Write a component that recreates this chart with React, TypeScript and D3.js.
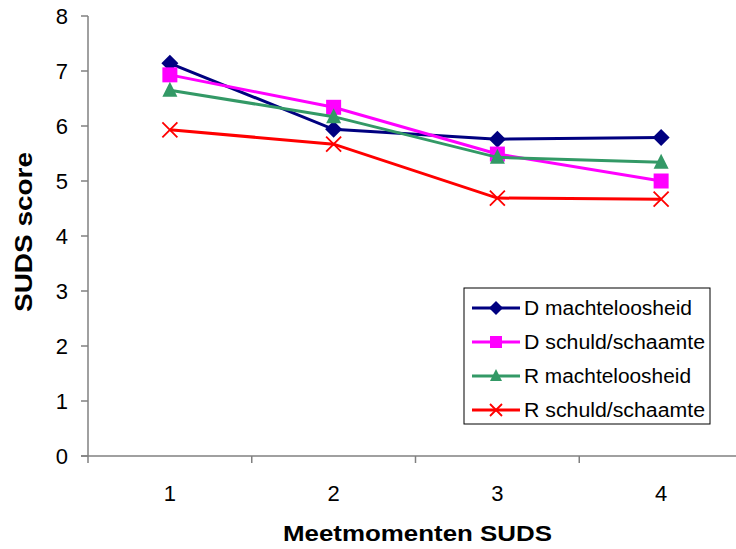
import React from "react";
import * as d3 from "d3";

const moments = ["1", "2", "3", "4"];
const dMacht = [7.14, 5.94, 5.76, 5.79];
const dSchuld = [6.93, 6.34, 5.49, 5.0];
const rMacht = [6.65, 6.17, 5.43, 5.34];
const rSchuld = [5.93, 5.67, 4.69, 4.67];
const yTicks = [0, 1, 2, 3, 4, 5, 6, 7, 8];

const series = [
  { name: "D machteloosheid", values: dMacht, color: "#000080", marker: "diamond" },
  { name: "D schuld/schaamte", values: dSchuld, color: "#FF00FF", marker: "square" },
  { name: "R machteloosheid", values: rMacht, color: "#339966", marker: "triangle" },
  { name: "R schuld/schaamte", values: rSchuld, color: "#FF0000", marker: "x" },
];

// rendered widths of the legend labels, so the glyphs match the original's narrow face
const legendTextWidth = [168, 181, 167, 181];

const W = 736;
const H = 549;
const margin = { top: 16, right: -7, bottom: 93, left: 88 };
const font = "'Liberation Sans', Arial, sans-serif";

function Marker({ type, x, y, color, r = 7.5 }: { type: string; x: number; y: number; color: string; r?: number }) {
  if (type === "diamond") {
    return <path d={`M${x},${y - r - 1}L${x + r + 1},${y}L${x},${y + r + 1}L${x - r - 1},${y}Z`} fill={color} />;
  }
  if (type === "square") {
    return <rect x={x - r} y={y - r} width={2 * r} height={2 * r} fill={color} />;
  }
  if (type === "triangle") {
    return <path d={`M${x},${y - r - 1}L${x + r},${y + r - 1}L${x - r},${y + r - 1}Z`} fill={color} />;
  }
  return (
    <path
      d={`M${x - r},${y - r}L${x + r},${y + r}M${x + r},${y - r}L${x - r},${y + r}`}
      stroke={color}
      strokeWidth={1.8}
      fill="none"
    />
  );
}

export default function App() {
  const innerW = W - margin.left - margin.right;
  const innerH = H - margin.top - margin.bottom;

  const x = d3.scaleBand().domain(moments).range([margin.left, margin.left + innerW]);
  const y = d3.scaleLinear().domain([0, 8]).range([margin.top + innerH, margin.top]);

  const lineGen = d3
    .line<number>()
    .x((d, i) => (x(moments[i]) as number) + x.bandwidth() / 2)
    .y((d) => y(d));

  const axisColor = "#808080";
  const legend = { x: 464, y: 288, w: 246, h: 136 };

  return (
    <svg
      width={W}
      height={H}
      style={{ position: "absolute", left: 0, top: 0, background: "#fff" }}
    >
      {/* y axis */}
      <line x1={margin.left} x2={margin.left} y1={y(8)} y2={y(0) + 7} stroke={axisColor} strokeWidth={1.5} />
      {yTicks.map((t) => (
        <g key={t}>
          <line x1={margin.left - 7} x2={margin.left} y1={y(t)} y2={y(t)} stroke={axisColor} strokeWidth={1.5} />
          <text
            x={margin.left - 20}
            y={y(t)}
            dy="0.36em"
            textAnchor="end"
            fontFamily={font}
            fontSize={22}
          >
            {t}
          </text>
        </g>
      ))}

      {/* x axis */}
      <line x1={margin.left - 7} x2={W} y1={y(0)} y2={y(0)} stroke={axisColor} strokeWidth={1.5} />
      {moments.map((m, i) => (
        <g key={m}>
          {i > 0 && (
            <line
              x1={x(m) as number}
              x2={x(m) as number}
              y1={y(0)}
              y2={y(0) + 7}
              stroke={axisColor}
              strokeWidth={1.5}
            />
          )}
          <text
            x={(x(m) as number) + x.bandwidth() / 2}
            y={y(0) + 45}
            textAnchor="middle"
            fontFamily={font}
            fontSize={22}
          >
            {m}
          </text>
        </g>
      ))}

      <text
        x={417.5}
        y={541}
        textAnchor="middle"
        fontFamily={font}
        fontSize={22}
        fontWeight="bold"
        textLength={269}
        lengthAdjust="spacingAndGlyphs"
      >
        Meetmomenten SUDS
      </text>
      <text
        transform={`translate(32,232) rotate(-90)`}
        textAnchor="middle"
        fontFamily={font}
        fontSize={24}
        fontWeight="bold"
        textLength={160}
        lengthAdjust="spacingAndGlyphs"
      >
        SUDS score
      </text>

      {/* series */}
      {series.map((s) => (
        <g key={s.name}>
          <path d={lineGen(s.values) || ""} fill="none" stroke={s.color} strokeWidth={3} />
          {s.values.map((v, i) => (
            <Marker
              key={i}
              type={s.marker}
              x={(x(moments[i]) as number) + x.bandwidth() / 2}
              y={y(v)}
              color={s.color}
            />
          ))}
        </g>
      ))}

      {/* legend */}
      <rect x={legend.x} y={legend.y} width={legend.w} height={legend.h} fill="#fff" stroke="#000" strokeWidth={1} />
      {series.map((s, i) => {
        const ly = legend.y + 20 + i * 34;
        return (
          <g key={s.name}>
            <line x1={legend.x + 8} x2={legend.x + 56} y1={ly} y2={ly} stroke={s.color} strokeWidth={3} />
            <Marker type={s.marker} x={legend.x + 32} y={ly} color={s.color} r={6} />
            <text
              x={legend.x + 60}
              y={ly}
              dy="0.36em"
              fontFamily={font}
              fontSize={20}
              textLength={legendTextWidth[i]}
              lengthAdjust="spacingAndGlyphs"
            >
              {s.name}
            </text>
          </g>
        );
      })}
    </svg>
  );
}
